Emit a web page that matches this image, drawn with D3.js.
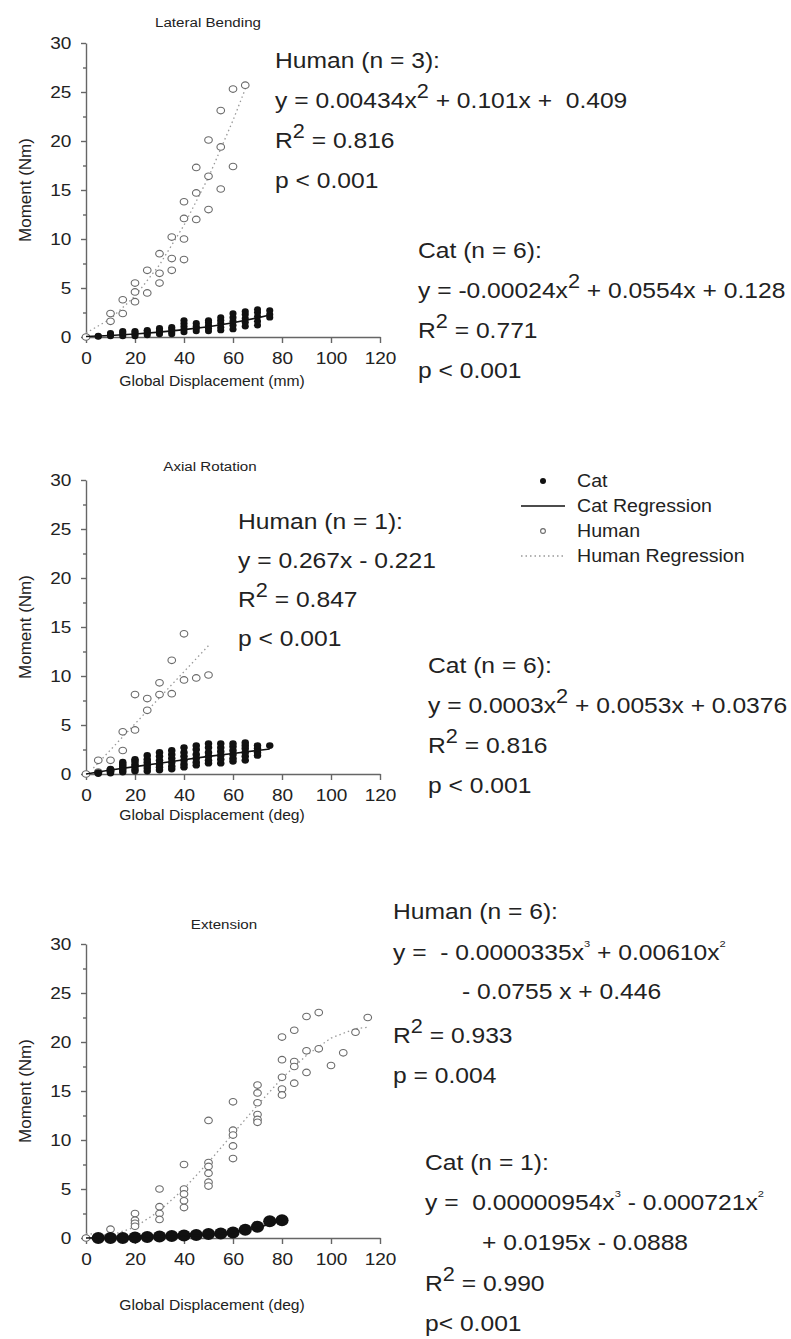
<!DOCTYPE html>
<html lang="en">
<head>
<meta charset="utf-8">
<title>Moment vs displacement</title>
<style>
  body { margin: 0; background: #fff; }
  text { font-family: "Liberation Sans", Arial, sans-serif; fill: #222; white-space: pre; }
  .axis path, .axis line { stroke: #666; stroke-width: 1.4; }
  .human { fill: #fff; stroke: #6a6a6a; stroke-width: 1.1; }
  .cat { fill: #111; }
  .catreg { fill: none; stroke: #111; stroke-width: 1.6; }
  .humreg { fill: none; stroke: #999; stroke-width: 1.3; stroke-dasharray: 1.5 3; }
</style>
<script src="https://cdn.jsdelivr.net/npm/d3@7"></script>
</head>
<body>
<svg width="791" height="1339"></svg>
<script>
// ---- data ----
const xTicks = [0, 20, 40, 60, 80, 100, 120];
const yTicks = [0, 5, 10, 15, 20, 25, 30];

// Lateral bending
const latHumanX = [0,10,10,15,15,20,20,20,25,25,30,30,30,35,35,35,40,40,40,40,45,45,45,50,50,50,55,55,55,60,60,65];
const latHumanY = [0,2.4,1.6,3.8,2.4,5.5,4.6,3.6,6.8,4.5,8.5,6.5,5.5,10.2,8.0,6.8,13.8,12.1,10.0,7.9,17.3,14.7,12.0,20.1,16.4,13.0,23.1,19.4,15.1,25.3,17.4,25.7];
const latCatX = [5,5,10,10,10,15,15,15,15,20,20,20,20,25,25,25,25,30,30,30,30,35,35,35,35,40,40,40,40,40,45,45,45,45,50,50,50,50,50,55,55,55,55,55,60,60,60,60,60,65,65,65,65,65,70,70,70,70,70,75,75,75];
const latCatY = [0.05,0.1,0.1,0.25,0.4,0.1,0.3,0.5,0.6,0.1,0.3,0.5,0.6,0.2,0.4,0.6,0.7,0.3,0.5,0.7,0.9,0.3,0.5,0.8,1.0,0.5,0.8,1.1,1.4,1.7,0.6,0.9,1.1,1.4,0.6,0.9,1.2,1.5,1.7,0.7,1.0,1.4,1.7,2.0,0.8,1.2,1.6,2.0,2.4,1.1,1.5,1.9,2.3,2.6,1.2,1.6,2.1,2.5,2.8,2.0,2.3,2.7];
const latHumRegX = [0,10,20,30,40,50,60,65];
const latHumRegY = [0.41,1.85,4.17,7.36,11.4,16.3,22.1,25.3];
const latCatRegX = [0,10,20,30,40,50,60,70,75];
const latCatRegY = [0.05,0.15,0.3,0.5,0.75,1.05,1.45,1.95,2.25];

// Axial rotation
const axHumanX = [0,5,5,10,10,15,15,20,20,25,25,30,30,35,35,40,40,45,50];
const axHumanY = [0,1.4,0.2,1.4,0.4,4.3,2.4,8.1,4.5,7.7,6.5,9.3,8.1,11.6,8.2,14.3,9.6,9.8,10.1];
const axCatX = [5,5,10,10,10,10,15,15,15,15,15,15,20,20,20,20,20,20,25,25,25,25,25,25,30,30,30,30,30,30,35,35,35,35,35,35,40,40,40,40,40,40,45,45,45,45,45,45,50,50,50,50,50,50,55,55,55,55,55,55,60,60,60,60,60,60,65,65,65,65,65,65,70,70,70,70,75];
const axCatY = [0.05,0.15,0.1,0.2,0.3,0.5,0.2,0.4,0.6,0.8,1.0,1.2,0.3,0.5,0.8,1.0,1.3,1.5,0.3,0.6,0.9,1.2,1.5,1.9,0.4,0.7,1.0,1.4,1.8,2.2,0.5,0.8,1.2,1.6,2.0,2.4,0.7,1.0,1.4,1.8,2.2,2.7,0.9,1.2,1.6,2.0,2.5,2.9,1.1,1.4,1.8,2.2,2.7,3.1,1.1,1.5,1.9,2.3,2.7,3.1,1.3,1.6,2.0,2.4,2.8,3.1,1.4,1.8,2.2,2.6,2.9,3.2,1.9,2.2,2.6,2.9,2.9];
const axHumRegX = [3,50];
const axHumRegY = [0.6,13.1];
const axCatRegX = [0,10,20,30,40,50,60,70,75];
const axCatRegY = [0.0,0.4,0.75,1.1,1.45,1.8,2.1,2.4,2.55];

// Extension
const extHumanX = [0,10,20,20,20,20,30,30,30,30,40,40,40,40,40,50,50,50,50,50,50,60,60,60,60,60,70,70,70,70,70,70,80,80,80,80,80,85,85,85,85,90,90,90,95,95,100,105,110,115];
const extHumanY = [0,0.9,2.5,1.8,1.5,1.2,5.0,3.2,2.5,1.9,7.5,5.0,4.5,3.8,3.1,12.0,7.7,7.3,6.6,5.7,5.3,13.9,11.0,10.5,9.4,8.1,15.6,14.8,13.8,12.6,12.1,11.8,20.5,18.2,16.4,15.2,14.6,21.2,18.0,17.5,15.8,22.6,19.1,16.9,23.0,19.3,17.6,18.9,21.0,22.5];
const extCatX = [5,10,15,20,25,30,35,40,45,50,55,60,65,70,75,80];
const extCatY = [0.0,0.0,0.0,0.05,0.1,0.15,0.2,0.25,0.3,0.4,0.45,0.55,0.85,1.15,1.7,1.8];
const extHumRegX = [0,10,20,30,40,50,60,70,80,90,100,110,115];
const extHumRegY = [0.45,0.27,1.11,2.77,5.04,7.73,10.64,13.56,16.3,18.64,20.4,21.36,21.5];
const extCatRegX = [0,10,20,30,40,50,60,70,80];
const extCatRegY = [0,0.05,0.1,0.15,0.2,0.3,0.55,1.05,1.8];

// annotation lines: ^..^ = large superscript, ~..~ = small superscript
const latHumanText = ["Human (n = 3):", "y = 0.00434x^2^ + 0.101x +  0.409", "R^2^ = 0.816", "p < 0.001"];
const latCatText = ["Cat (n = 6):", "y = -0.00024x^2^ + 0.0554x + 0.128", "R^2^ = 0.771", "p < 0.001"];
const axHumanText = ["Human (n = 1):", "y = 0.267x - 0.221", "R^2^ = 0.847", "p < 0.001"];
const axCatText = ["Cat (n = 6):", "y = 0.0003x^2^ + 0.0053x + 0.0376", "R^2^ = 0.816", "p < 0.001"];
const extHumanText = ["Human (n = 6):", "y =  - 0.0000335x~3~ + 0.00610x~2~", "- 0.0755 x + 0.446", "R^2^ = 0.933", "p = 0.004"];
const extCatText = ["Cat (n = 1):", "y =  0.00000954x~3~ - 0.000721x~2~", "+ 0.0195x - 0.0888", "R^2^ = 0.990", "p< 0.001"];

const legendLabels = ["Cat", "Cat Regression", "Human", "Human Regression"];

// ---- drawing ----
const SX = 1.12;   // the figure's text is stretched sideways
const svg = d3.select("svg");

function zip(xs, ys) { return xs.map((x, i) => [x, ys[i]]); }

function label(g, x, y, str, size, anchor) {
    const t = g.append("text")
        .attr("transform", `translate(${x},${y}) scale(${SX},1)`)
        .style("font-size", size + "px")
        .attr("text-anchor", anchor || "start");
    // split into normal / superscript pieces
    const parts = str.split(/(\^[^^]*\^|~[^~]*~)/).filter(s => s.length);
    let raised = 0;
    parts.forEach(p => {
        if (p[0] === "^" || p[0] === "~") {
            const big = p[0] === "^";
            const up = (big ? 0.45 : 0.6) * size;
            t.append("tspan").text(p.slice(1, -1))
                .style("font-size", (big ? 0.88 : 0.45) * size + "px")
                .attr("dy", -up);
            raised = up;
        } else {
            const s = t.append("tspan").text(p);
            if (raised) { s.attr("dy", raised); raised = 0; }
        }
    });
    return t;
}

function block(lines, x, ys, indents) {
    lines.forEach((s, i) => label(svg, x + ((indents && indents[i]) || 0), ys[i], s, 22));
}

function panel(opt) {
    const x = d3.scaleLinear([0, 120], [86, 380]);
    const y = d3.scaleLinear([0, 30], [opt.bottom, opt.bottom - 294]);
    const g = svg.append("g");

    // minor y ticks
    g.append("g").attr("class", "axis")
        .attr("transform", "translate(86,0)")
        .call(d3.axisLeft(y).tickValues([2.5, 7.5, 12.5, 17.5, 22.5, 27.5]).tickSize(3).tickFormat(""))
        .call(a => a.select(".domain").remove());

    const ya = g.append("g").attr("class", "axis")
        .attr("transform", "translate(86,0)")
        .call(d3.axisLeft(y).tickValues(yTicks).tickSize(5).tickSizeOuter(0).tickPadding(8));
    ya.selectAll("text").style("font-size", "17px").style("font-family", null)
        .attr("transform", `scale(${SX},1)`).attr("fill", "#222");

    const xa = g.append("g").attr("class", "axis")
        .attr("transform", `translate(0,${opt.bottom})`)
        .call(d3.axisBottom(x).tickValues(xTicks).tickSize(6).tickSizeOuter(0).tickPadding(9));
    xa.selectAll("text").style("font-size", "17px").style("font-family", null)
        .attr("transform", `scale(${SX},1)`).attr("fill", "#222");

    label(g, opt.titleX, opt.titleY, opt.title, 13.5, "middle");
    label(g, 212, opt.xlabelY, opt.xlabel, 14, "middle");
    g.append("text")
        .attr("transform", `translate(31,${opt.bottom - 147}) rotate(-90)`)
        .attr("text-anchor", "middle").style("font-size", "17px")
        .text("Moment (Nm)");

    const line = d3.line().x(d => x(d[0])).y(d => y(d[1]));
    g.append("path").attr("class", "humreg").attr("d", line(opt.humReg));

    g.selectAll(".human-pt").data(opt.human).join("ellipse")
        .attr("class", "human")
        .attr("cx", d => x(d[0])).attr("cy", d => y(d[1]))
        .attr("rx", 3.8).attr("ry", 3.3);

    g.selectAll(".cat-pt").data(opt.cat).join("ellipse")
        .attr("class", "cat")
        .attr("cx", d => x(d[0])).attr("cy", d => y(d[1]))
        .attr("rx", opt.catR * 1.1).attr("ry", opt.catR);

    g.append("path").attr("class", "catreg").attr("d", line(opt.catReg));
}

panel({
    bottom: 337, title: "Lateral Bending", titleX: 208, titleY: 27,
    xlabel: "Global Displacement (mm)", xlabelY: 386,
    human: zip(latHumanX, latHumanY), cat: zip(latCatX, latCatY),
    humReg: zip(latHumRegX, latHumRegY), catReg: zip(latCatRegX, latCatRegY), catR: 3.2
});
panel({
    bottom: 774, title: "Axial Rotation", titleX: 210, titleY: 471,
    xlabel: "Global Displacement (deg)", xlabelY: 820,
    human: zip(axHumanX, axHumanY), cat: zip(axCatX, axCatY),
    humReg: zip(axHumRegX, axHumRegY), catReg: zip(axCatRegX, axCatRegY), catR: 3.4
});
panel({
    bottom: 1238, title: "Extension", titleX: 224, titleY: 929,
    xlabel: "Global Displacement (deg)", xlabelY: 1310,
    human: zip(extHumanX, extHumanY), cat: zip(extCatX, extCatY),
    humReg: zip(extHumRegX, extHumRegY), catReg: zip(extCatRegX, extCatRegY), catR: 6
});

block(latHumanText, 275, [68, 108, 148, 188]);
block(latCatText, 418, [258, 298, 338, 378]);
block(axHumanText, 238, [529, 568, 607, 646]);
block(axCatText, 428, [673, 713, 753, 793]);
block(extHumanText, 393, [919, 960, 999, 1043, 1083], [0, 0, 69, 0, 0]);
block(extCatText, 425, [1170, 1210, 1250, 1291, 1331], [0, 0, 57, 0, 0]);

// legend
const lg = svg.append("g").attr("transform", "translate(521,481)");
legendLabels.forEach((s, i) => {
    const yy = i * 25;
    if (i === 0) lg.append("circle").attr("class", "cat").attr("cx", 22).attr("cy", yy).attr("r", 3);
    if (i === 1) lg.append("line").attr("class", "catreg").attr("x1", 0).attr("x2", 44).attr("y1", yy).attr("y2", yy);
    if (i === 2) lg.append("circle").attr("class", "human").attr("cx", 22).attr("cy", yy).attr("r", 2.4);
    if (i === 3) lg.append("line").attr("class", "humreg").attr("x1", 0).attr("x2", 44).attr("y1", yy).attr("y2", yy);
    label(lg, 56, yy + 6, s, 17.5);
});
</script>
</body>
</html>
